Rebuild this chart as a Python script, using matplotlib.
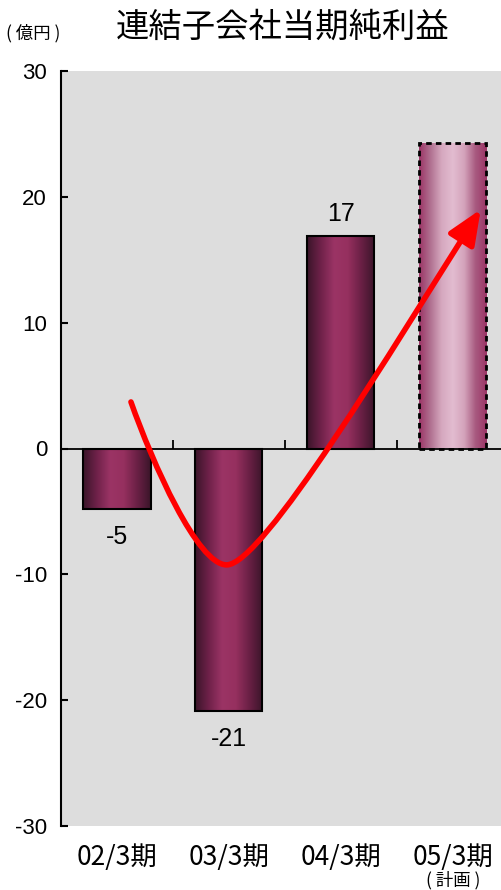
import numpy as np
import matplotlib
matplotlib.use("Agg")
import matplotlib.pyplot as plt
from matplotlib.colors import LinearSegmentedColormap
from matplotlib.patches import FancyArrowPatch
from matplotlib.path import Path

# 連結子会社当期純利益（億円）
periods = ["02/3期", "03/3期", "04/3期", "05/3期"]
profits = [-4.8, -20.9, 16.9, 24.3]
show_value = [True, True, True, False]
is_plan = [False, False, False, True]
plan_note = "( 計画 )"
title = "連結子会社当期純利益"
unit = "( 億円 )"
yticks = [-30, -20, -10, 0, 10, 20, 30]

JP = ["Noto Sans CJK JP", "DejaVu Sans"]
NUM = ["Liberation Sans", "Noto Sans CJK JP", "DejaVu Sans"]

cm_actual = LinearSegmentedColormap.from_list(
    "actual", ["#3a1529", "#6e2149", "#9b3465", "#96305f", "#6a2045", "#3a1529"])
cm_plan = LinearSegmentedColormap.from_list(
    "plan", ["#9b3465", "#b07090", "#d6a8bf", "#e2bcd0", "#d4a3bb", "#a85a80", "#9b3465"])

fig = plt.figure(figsize=(5.02, 8.90), dpi=100)
ax = fig.add_axes([61 / 502, 64 / 890, 441 / 502, 755 / 890])
ax.set_facecolor("#dddddd")

width = 0.6
grad = np.linspace(0, 1, 256).reshape(1, -1)
for i, v in enumerate(profits):
    ls = (0, (2, 1.5)) if is_plan[i] else "-"
    lw = 2.0 if is_plan[i] else 1.5
    bar = ax.bar(i, v, width=width, facecolor="none", edgecolor="black",
                 linewidth=lw, linestyle=ls, zorder=4)[0]
    img = ax.imshow(grad, cmap=cm_plan if is_plan[i] else cm_actual,
                    extent=(i - width / 2, i + width / 2, min(0, v), max(0, v)),
                    aspect="auto", zorder=3, interpolation="bilinear")
    img.set_clip_path(bar)
    if show_value[i]:
        off = 16 if v > 0 else -20
        ax.annotate("%.0f" % v, (i, v), xytext=(0, off), textcoords="offset points",
                    ha="center", va="center", fontsize=18, family=NUM, zorder=6)

# zero line and category separators
ax.axhline(0, color="black", lw=1.3, zorder=5)
bounds = np.arange(len(periods) - 1) + 0.5
ax.vlines(bounds, 0, 0.7, color="black", lw=1.3, zorder=5)

# trend arrow
verts = [(0.125, 3.7), (0.32, -1.2), (0.72, -9.25), (0.98, -9.25),
         (1.3, -9.25), (2.45, 7.8), (3.25, 19.0)]
codes = [Path.MOVETO] + [Path.CURVE4] * 6
arrow = FancyArrowPatch(path=Path(verts, codes),
                        arrowstyle="-|>,head_length=0.75,head_width=0.32",
                        mutation_scale=28, color="#ff0000", lw=4, zorder=7)
ax.add_patch(arrow)

ax.set_xlim(-0.5, 3.44)
ax.set_ylim(-30, 30)
ax.set_yticks(yticks)
ax.set_yticklabels([str(t) for t in yticks], family=NUM, fontsize=16)
ax.tick_params(axis="y", direction="in", length=5, width=1.5, pad=10)
ax.set_xticks(range(len(periods)))
ax.set_xticklabels(periods, family=JP, fontsize=19)
ax.tick_params(axis="x", length=0, pad=13)
for s in ["top", "right", "bottom"]:
    ax.spines[s].set_visible(False)
ax.spines["left"].set_linewidth(1.5)

for i, p in enumerate(is_plan):
    if p:
        ax.annotate(plan_note, (i, -30), xytext=(0, -39), textcoords="offset points",
                    ha="center", va="center", fontsize=12.5, family=JP,
                    annotation_clip=False)

fig.text(283 / 502, 1 - 27 / 890, title, ha="center", va="center",
         fontsize=24, family=JP)
fig.text(33 / 502, 1 - 33 / 890, unit, ha="center", va="center",
         fontsize=12.5, family=JP)

fig.savefig("out.png", dpi=100)
